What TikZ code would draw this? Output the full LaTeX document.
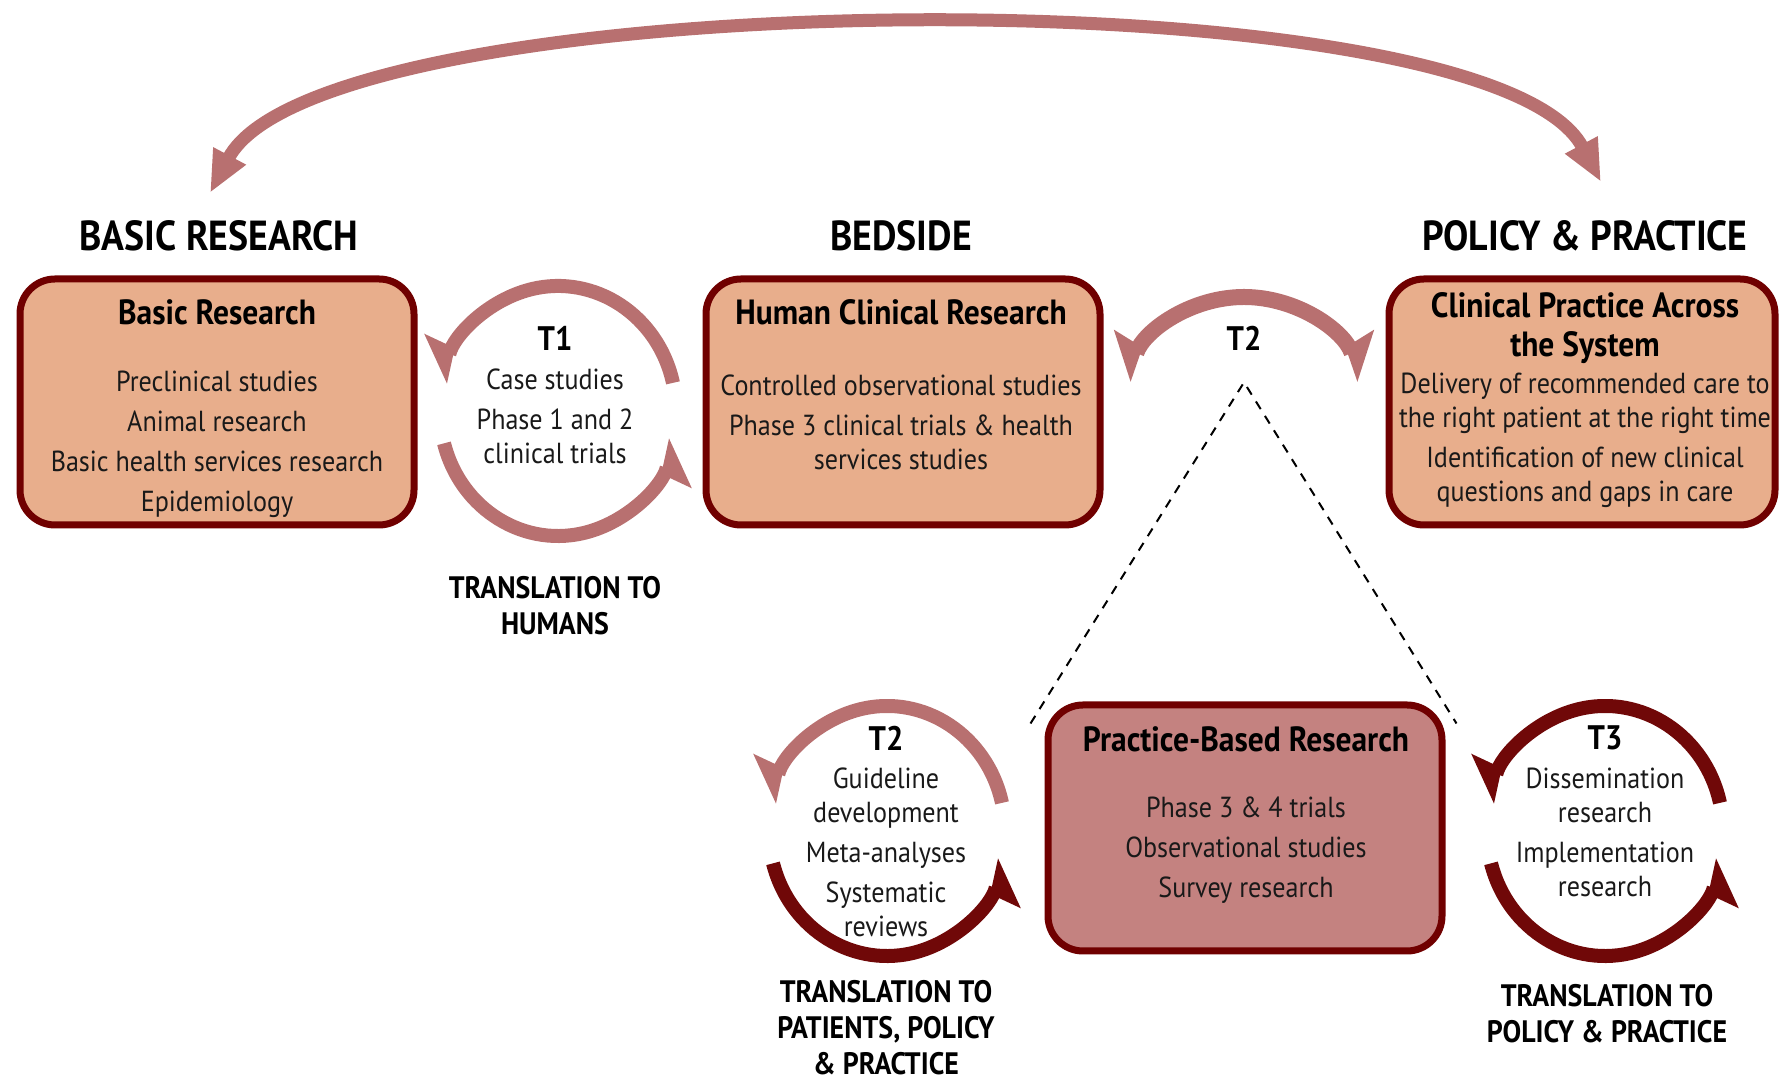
\documentclass[tikz,border=0pt]{standalone}
\usepackage{fontspec}
\setmainfont{PT Sans}[FakeStretch=0.9]
\usetikzlibrary{arrows.meta,positioning}
\definecolor{peach}{HTML}{E8AE8C}
\definecolor{rose}{HTML}{C48280}
\definecolor{boxline}{HTML}{700000}
\definecolor{lightred}{HTML}{B87070}
\definecolor{darkred}{HTML}{700808}
\begin{document}
\begin{tikzpicture}[x=1pt,y=1pt,
	boxstyle/.style={draw=boxline,line width=7pt,rounded corners=35pt,fill=peach,minimum width=394pt,minimum height=246pt},
	headstyle/.style={font=\fontsize{42}{42}\selectfont\bfseries,inner sep=0pt},
	titlestyle/.style={font=\fontsize{35}{39}\selectfont\bfseries,align=center,inner sep=0pt},
	textstyle/.style={font=\fontsize{29}{34}\selectfont,align=center,inner sep=0pt,text=black!90},
	tstyle/.style={font=\fontsize{34}{34}\selectfont\bfseries,inner sep=0pt},
	transstyle/.style={font=\fontsize{31}{36}\selectfont\bfseries,align=center,inner sep=0pt},
	cyclearrow/.style={line width=14pt,-{Stealth[harpoon,swap,length=38pt,width=56pt,inset=6pt]}},
	cyclearrowcw/.style={line width=14pt,-{Stealth[harpoon,length=38pt,width=56pt,inset=6pt]}},
	bigarc/.style={draw=lightred,line width=13pt,{Triangle[length=42pt,width=34pt]}-{Triangle[length=42pt,width=34pt]}},
	dashline/.style={line width=2pt,dash pattern=on 9pt off 8pt}]
\useasboundingbox (0,0) rectangle (1781,1083);
% boxes
\node[boxstyle] (basic) at (217,681) {};
\node[boxstyle] (human) at (903,681) {};
\node[boxstyle,minimum width=386pt] (clinical) at (1582,681) {};
\node[boxstyle,fill=rose] (practice) at (1245,255) {};
% headers
\node[headstyle] (hbasic) at (219,847) {BASIC RESEARCH};
\node[headstyle] (hbedside) at (901,847) {BEDSIDE};
\node[headstyle] (hpolicy) at (1585,847) {POLICY \& PRACTICE};
% box texts
\node[titlestyle] (tbasic) at (217,771) {Basic Research};
\node[textstyle] (bbasic) at (217,639) {Preclinical studies\\[6pt]Animal research\\[6pt]Basic health services research\\[6pt]Epidemiology};
\node[titlestyle] (thuman) at (901,771) {Human Clinical Research};
\node[textstyle] (bhuman) at (901,661) {Controlled observational studies\\[6pt]Phase 3 clinical trials \& health\\services studies};
\node[titlestyle] (tclinical) at (1585,755) {Clinical Practice Across\\the System};
\node[textstyle] (bclinical) at (1585,643) {Delivery of recommended care to\\the right patient at the right time\\[6pt]Identification of new clinical\\questions and gaps in care};
\node[titlestyle] (tpractice) at (1246,344) {Practice-Based Research};
\node[textstyle] (bpractice) at (1246,233) {Phase 3 \& 4 trials\\[6pt]Observational studies\\[6pt]Survey research};
% translation steps
\node[tstyle] (lt1) at (555,745) {T1};
\node[textstyle] (bt1) at (555,667) {Case studies\\[6pt]Phase 1 and 2\\clinical trials};
\node[transstyle] (tr1) at (555,477) {TRANSLATION TO\\HUMANS};
\node[tstyle] (lt2top) at (1244,745) {T2};
\node[tstyle] (lt2) at (886,345) {T2};
\node[textstyle] (bt2) at (886,231) {Guideline\\development\\[6pt]Meta-analyses\\[6pt]Systematic\\reviews};
\node[transstyle] (tr2) at (886,55) {TRANSLATION TO\\PATIENTS, POLICY\\\& PRACTICE};
\node[tstyle] (lt3) at (1605,345) {T3};
\node[textstyle] (bt3) at (1605,251) {Dissemination\\research\\[6pt]Implementation\\research};
\node[transstyle] (tr3) at (1607,69) {TRANSLATION TO\\POLICY \& PRACTICE};
% cycle centres
\coordinate (c1) at (558,672);
\coordinate (c2) at (1244,662);
\coordinate (c3) at (887,252);
\coordinate (c4) at (1605,252);
\foreach \c/\upcol/\lowcol in {c1/lightred/lightred,c3/lightred/darkred,c4/darkred/darkred}{
	\draw[cyclearrow,draw=\upcol] ([shift={(13:118 and 125)}]\c) arc[start angle=13,end angle=167,x radius=118,y radius=125];
	\draw[cyclearrow,draw=\lowcol] ([shift={(195:118 and 125)}]\c) arc[start angle=195,end angle=347,x radius=118,y radius=125];
}
\draw[cyclearrow,draw=lightred,line width=16pt] ([shift={(90:124)}]c2) arc[start angle=90,end angle=161,radius=124];
\draw[cyclearrowcw,draw=lightred,line width=16pt] ([shift={(90:124)}]c2) arc[start angle=90,end angle=19,radius=124];
% big arc
\coordinate (archL) at (210,890);
\coordinate (archR) at (1601,901);
\draw[bigarc] (archL) .. controls +(62:240) and +(118:240) .. (archR);
% dashed zoom lines
\draw[dashline] ([shift={(-14,-22)}]practice.north west) -- ([yshift=-32pt]lt2top.south) -- ([shift={(11,-22)}]practice.north east);
\end{tikzpicture}
\end{document}
